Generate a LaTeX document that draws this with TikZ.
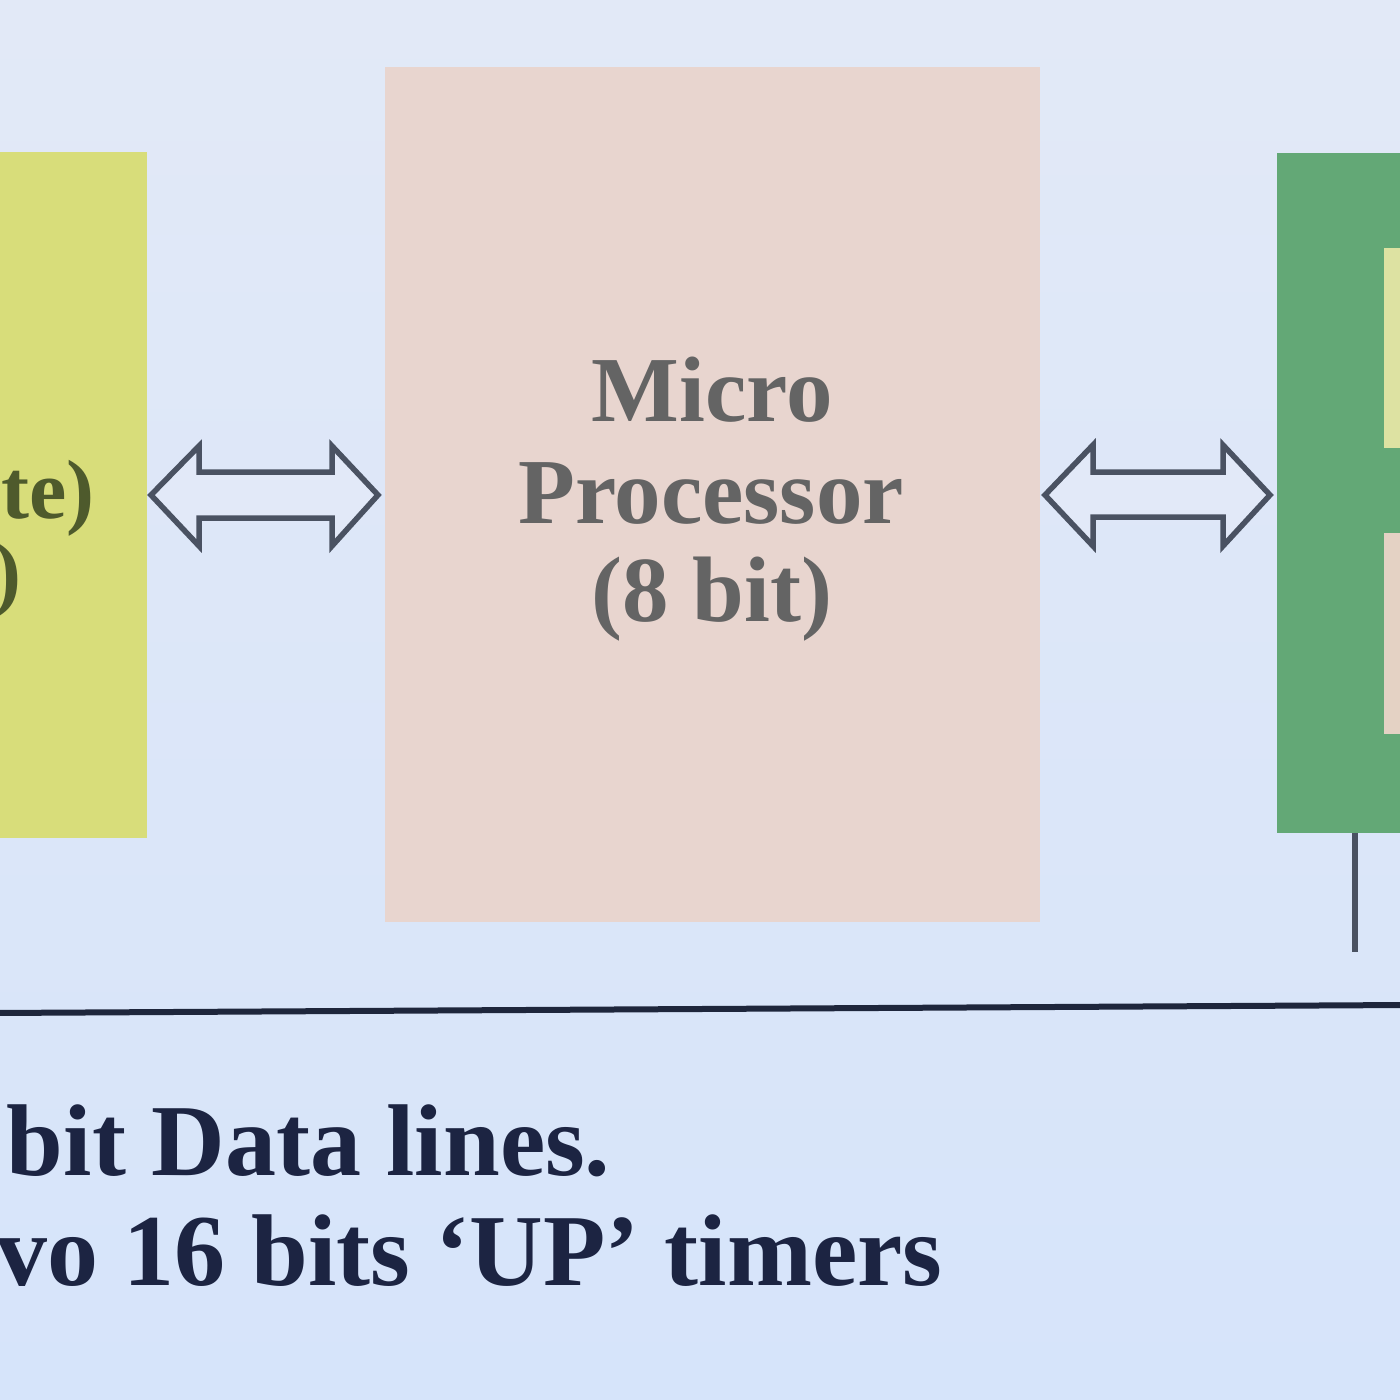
\documentclass[tikz,border=0pt]{standalone}
\usepackage{fontspec}
\setmainfont{Liberation Serif}
\definecolor{bgtop}{RGB}{226,233,247}
\definecolor{bgbot}{RGB}{214,228,250}
\definecolor{yelbox}{RGB}{216,221,122}
\definecolor{pinkbox}{RGB}{232,213,207}
\definecolor{greenbox}{RGB}{99,168,118}
\definecolor{inyel}{RGB}{221,226,162}
\definecolor{inpink}{RGB}{228,210,196}
\definecolor{arrowline}{RGB}{74,82,98}
\definecolor{arrowfill}{RGB}{226,233,248}
\definecolor{rulecol}{RGB}{30,38,60}
\definecolor{midtext}{RGB}{100,100,100}
\definecolor{lefttext}{RGB}{78,90,44}
\definecolor{bottext}{RGB}{28,36,66}
\tikzset{
  blockarrow/.style={draw=arrowline, line width=5.5pt, line join=miter, fill=arrowfill},
  midfont/.style={font=\fontsize{93}{106}\selectfont\bfseries, text=midtext},
  leftfont/.style={font=\fontsize{84}{96}\selectfont\bfseries, text=lefttext},
  botfont/.style={font=\fontsize{102}{116}\selectfont\bfseries, text=bottext}
}
\begin{document}
\begin{tikzpicture}[x=1pt,y=-1pt]
\useasboundingbox (0,0) rectangle (1400,1400);
\clip (0,0) rectangle (1400,1400);
\shade[top color=bgtop, bottom color=bgbot] (0,0) rectangle (1400,1400);
% left yellow box
\fill[yelbox] (-20,152) rectangle (147,838);
\node[leftfont, anchor=base east] (l1) at (98,518) {rte)};
\node[leftfont, anchor=base east] (l2) at (25,600) {)};
% middle box
\node[fill=pinkbox, minimum width=655pt, minimum height=855pt, inner sep=0pt] (mp) at (712.5,494.5) {};
\node[midfont, anchor=base] (t1) at (712,421) {Micro};
\node[midfont, anchor=base] (t2) at (711,523) {Processor};
\node[midfont, anchor=base] (t3) at (712,621) {(8 bit)};
% right green box
\fill[greenbox] (1277,153) rectangle (1430,833);
\fill[inyel] (1384,248) rectangle (1430,448);
\fill[inpink] (1384,533) rectangle (1430,734);
\coordinate (gb) at (1355,833);
\coordinate (ge) at (1355,952);
\draw[arrowline, line width=6pt] (gb) -- (ge);
% arrows
\draw[blockarrow] (151,495) -- (199,446) -- (199,472) -- (332,472) -- (332,446) -- (378,495) -- (332,546) -- (332,518) -- (199,518) -- (199,546) -- cycle;
\draw[blockarrow] (1045,495) -- (1093,445) -- (1093,472) -- (1223,472) -- (1223,445) -- (1270,495) -- (1223,546) -- (1223,517) -- (1093,517) -- (1093,546) -- cycle;
% horizontal rule
\coordinate (r1) at (-5,1013);
\coordinate (r2) at (1405,1005);
\draw[rulecol, line width=6pt] (r1) -- (r2);
% bottom text
\node[botfont, anchor=base east] (b1) at (614,1175) {bit Data lines.};
\node[botfont, anchor=base east] (b2) at (946,1285) {vo 16 bits ‘UP’ timers};
\end{tikzpicture}
\end{document}
